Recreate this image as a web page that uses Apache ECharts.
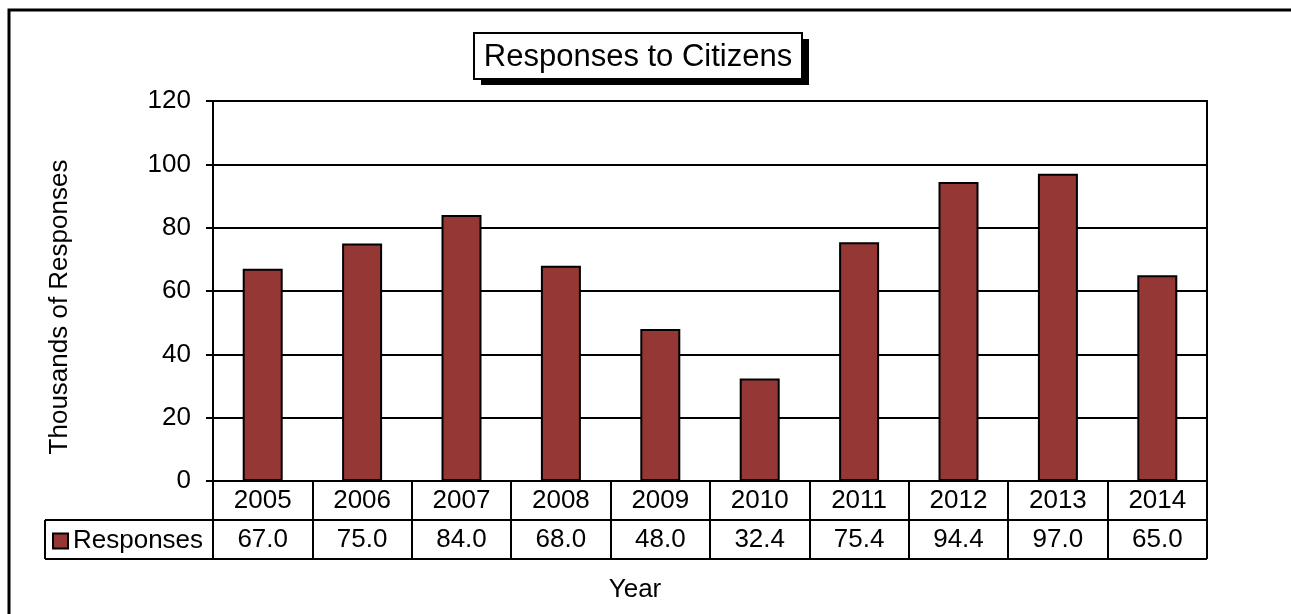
<!DOCTYPE html>
<html>
<head>
<meta charset="utf-8">
<script src="https://cdn.jsdelivr.net/npm/echarts@6/dist/echarts.min.js"></script>
<style>
html,body{margin:0;padding:0;background:#fff;}
#chart{width:1291px;height:614px;}
</style>
</head>
<body>
<div id="chart"></div>
<script>
const categories = ['2005','2006','2007','2008','2009','2010','2011','2012','2013','2014'];
const responses = [67.0, 75.0, 84.0, 68.0, 48.0, 32.4, 75.4, 94.4, 97.0, 65.0];
const seriesName = 'Responses';
const titleText = 'Responses to Citizens';
const yAxisName = 'Thousands of Responses';
const xAxisName = 'Year';

const FONT = '"Liberation Sans", Arial, sans-serif';
const FS = 26;
const chart = echarts.init(document.getElementById('chart'), null, {renderer: 'canvas'});

const gridL = 213, gridR = 1207, gridT = 101, gridB = 481;
const rowH = 39;

chart.setOption({
  animation: false,
  backgroundColor: '#fff',
  textStyle: {fontFamily: FONT, color: '#000'},
  grid: {
    left: gridL, top: gridT, width: gridR - gridL, height: gridB - gridT,
    show: true, borderColor: '#000', borderWidth: 2, backgroundColor: 'transparent'
  },
  legend: {
    show: true,
    left: 52, top: 528,
    padding: 0,
    icon: 'rect',
    itemWidth: 15, itemHeight: 15, itemGap: 6,
    textStyle: {fontFamily: FONT, fontSize: FS, color: '#000', padding: [0,0,0,0]},
    data: [seriesName]
  },
  xAxis: {
    type: 'category',
    data: categories,
    boundaryGap: true,
    axisLine: {show: true, lineStyle: {color: '#000', width: 2}},
    axisTick: {show: true, interval: 0, length: rowH * 2, lineStyle: {color: '#000', width: 2}},
    axisLabel: {
      interval: 0, margin: 0,
      formatter: (v, i) => '{a|' + v + '}\n{a|' + responses[i].toFixed(1) + '}',
      rich: {a: {fontFamily: FONT, fontSize: FS, color: '#000', lineHeight: rowH, align: 'center'}}
    },
    splitLine: {show: false}
  },
  yAxis: {
    type: 'value',
    min: 0, max: 120, interval: 20,
    axisLine: {show: true, lineStyle: {color: '#000', width: 2}},
    axisTick: {show: true, inside: false, length: 7, lineStyle: {color: '#000', width: 2}},
    axisLabel: {margin: 22, fontFamily: FONT, fontSize: FS, color: '#000'},
    splitLine: {show: true, lineStyle: {color: '#000', width: 2}}
  },
  series: [{
    name: seriesName,
    type: 'bar',
    data: responses,
    barWidth: 40,
    itemStyle: {color: '#953735', borderColor: '#000', borderWidth: 2}
  }],
  graphic: [
    {type: 'rect', shape: {x: 9, y: 10, width: 1300, height: 700}, style: {fill: 'none', stroke: '#000', lineWidth: 3}, silent: true},
    {type: 'line', shape: {x1: 45, y1: gridB + rowH, x2: gridR, y2: gridB + rowH}, style: {stroke: '#000', lineWidth: 2}, silent: true},
    {type: 'line', shape: {x1: 45, y1: gridB + rowH * 2, x2: gridR, y2: gridB + rowH * 2}, style: {stroke: '#000', lineWidth: 2}, silent: true},
    {type: 'line', shape: {x1: 45, y1: gridB + rowH, x2: 45, y2: gridB + rowH * 2}, style: {stroke: '#000', lineWidth: 2}, silent: true},
    {type: 'line', shape: {x1: gridR, y1: gridB, x2: gridR, y2: gridB + rowH * 2}, style: {stroke: '#000', lineWidth: 2}, silent: true},
    {type: 'rect', shape: {x: 481, y: 39, width: 328, height: 46}, style: {fill: '#000'}, silent: true},
    {type: 'rect', shape: {x: 474, y: 33, width: 328, height: 46}, style: {fill: '#fff', stroke: '#000', lineWidth: 2}, silent: true},
    {type: 'text', x: 638, y: 57, style: {text: titleText, font: '31px ' + FONT, fill: '#000', textAlign: 'center', textVerticalAlign: 'middle'}, silent: true},
    {type: 'text', x: 60, y: 307, rotation: Math.PI / 2, style: {text: yAxisName, font: FS + 'px ' + FONT, fill: '#000', textAlign: 'center', textVerticalAlign: 'middle'}, silent: true},
    {type: 'text', x: 635, y: 590, style: {text: xAxisName, font: FS + 'px ' + FONT, fill: '#000', textAlign: 'center', textVerticalAlign: 'middle'}, silent: true}
  ]
});
</script>
</body>
</html>
